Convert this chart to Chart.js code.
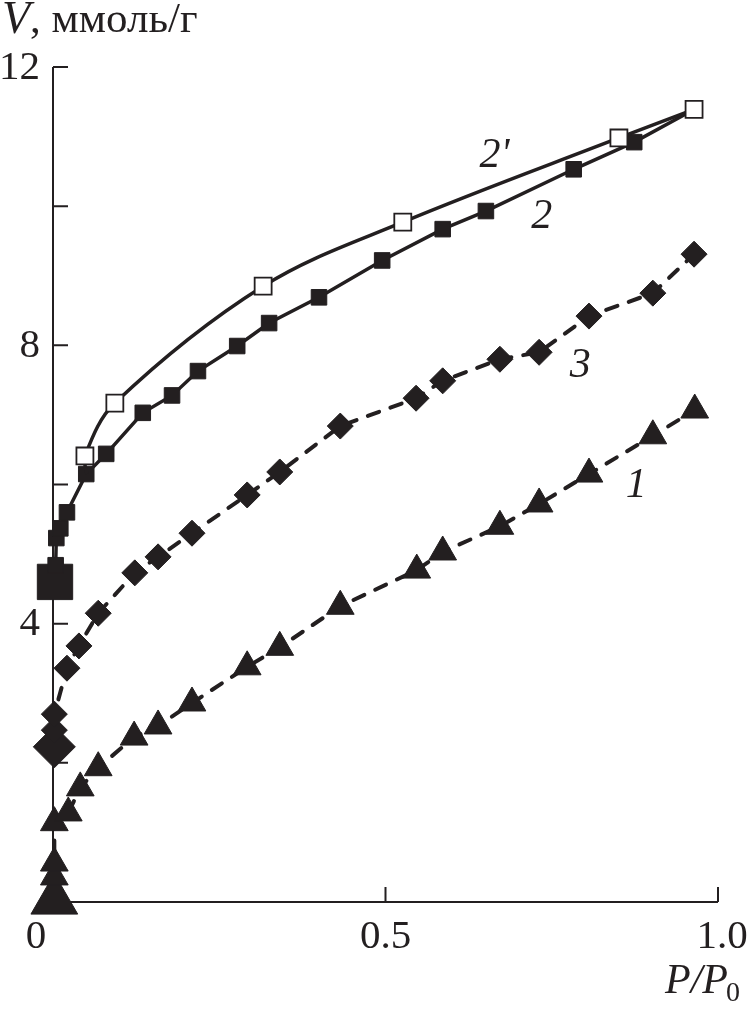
<!DOCTYPE html>
<html>
<head>
<meta charset="utf-8">
<script src="https://cdn.jsdelivr.net/npm/chart.js@4.4.1/dist/chart.umd.min.js"></script>
<style>
html,body{margin:0;padding:0;background:#fff}
#wrap{width:747px;height:1018px;position:relative}
</style>
</head>
<body>
<div id="wrap"><canvas id="c"></canvas></div>
<script>
// isothermes : V (ммоль/г) en fonction de P/P0

// courbe 1 (triangles, tirets)
var p_1=[0.002,0.002,0.002,0.002,0.023,0.041,0.068,0.122,0.158,0.209,0.292,0.341,0.432,0.547,0.586,0.672,0.731,0.806,0.902,0.965]
var v_1=[0.02,0.36,0.56,1.14,1.28,1.64,1.93,2.37,2.53,2.86,3.38,3.66,4.25,4.77,5.03,5.40,5.72,6.15,6.70,7.07]

// courbe 2 (carres pleins, trait plein)
var p_2=[0.003,0.004,0.005,0.011,0.021,0.050,0.080,0.135,0.179,0.218,0.277,0.325,0.400,0.495,0.586,0.651,0.783,0.874,0.964]
var v_2=[4.60,4.84,5.23,5.37,5.60,6.15,6.44,7.03,7.28,7.63,7.99,8.32,8.69,9.22,9.67,9.93,10.53,10.92,11.39]

// courbe 2' (carres vides, desorption)
var p_2d=[0.051,0.048,0.093,0.316,0.526,0.851,0.964]
var v_2d=[6.15,6.41,7.17,8.85,9.77,10.98,11.39]

// courbe 3 (losanges, tirets)
var p_3=[0.002,0.002,0.002,0.021,0.039,0.068,0.123,0.158,0.209,0.292,0.341,0.432,0.546,0.586,0.672,0.731,0.806,0.902,0.964]
var v_3=[2.23,2.47,2.70,3.36,3.68,4.15,4.73,4.96,5.30,5.85,6.18,6.84,7.24,7.49,7.80,7.90,8.42,8.75,9.31]

var xTicks=[0.5,1.0]
var xTickLabels=["0.5","1.0"]
var yTicks=[2,4,6,8,10,12]
var yTickLabels=[4,8,12]

// etiquettes des courbes [texte, x, V]
var curveLabels=[["2'",0.664,10.72],["2",0.735,9.85],["3",0.793,7.70],["1",0.877,5.98]]

var ink="#231f20"

function pts(xs,ys){
    var out=[]
    for(var i=0;i<xs.length;i++){ out.push({x:xs[i],y:ys[i]}) }
    return out
}

function txt(ctx,s,x,y,size,italic,align,sx){
    ctx.save()
    ctx.font=(italic?"italic ":"")+size+"px 'Liberation Serif'"
    ctx.fillStyle=ink
    ctx.textBaseline="middle"
    ctx.textAlign=align||"center"
    ctx.translate(x,y)
    ctx.scale(sx||1,1)
    ctx.fillText(s,0,0)
    var w=ctx.measureText(s).width*(sx||1)
    ctx.restore()
    return w
}

const axes={
    id:'axes',
    beforeDatasetsDraw:(chart)=>{
        const {ctx,scales:{x,y}}=chart
        var x0=x.getPixelForValue(0), y0=y.getPixelForValue(0)
        ctx.save()
        ctx.strokeStyle=ink
        ctx.lineWidth=2
        ctx.beginPath()
        ctx.moveTo(x0,y.getPixelForValue(12))
        ctx.lineTo(x0,y0)
        ctx.lineTo(x.getPixelForValue(1),y0)
        for(var i=0;i<yTicks.length;i++){
            var py=y.getPixelForValue(yTicks[i])
            ctx.moveTo(x0,py); ctx.lineTo(x0+15,py)
        }
        for(var i=0;i<xTicks.length;i++){
            var px=x.getPixelForValue(xTicks[i])
            ctx.moveTo(px,y0); ctx.lineTo(px,y0-15)
        }
        ctx.stroke()
        ctx.restore()
    },
    afterDraw:(chart)=>{
        const {ctx,scales:{x,y}}=chart
        var x0=x.getPixelForValue(0), y0=y.getPixelForValue(0)
        for(var i=0;i<yTickLabels.length;i++){
            txt(ctx,String(yTickLabels[i]),x0-13,y.getPixelForValue(yTickLabels[i])+1,41,false,"right",1)
        }
        txt(ctx,"0",x0-17,y0+35,41,false,"center",1)
        txt(ctx,xTickLabels[0],x.getPixelForValue(xTicks[0]),y0+35,41,false,"center",1)
        txt(ctx,xTickLabels[1],x.getPixelForValue(xTicks[1])+4,y0+35,41,false,"center",1)
        // titre axe y
        var w=txt(ctx,"V",2,21,46,true,"left",1)
        txt(ctx,", ммоль/г",2+w,21,43,false,"left",1)
        // titre axe x
        var wp=txt(ctx,"P/P",665,982,42,true,"left",1)
        txt(ctx,"0",665+wp-2,994,28,false,"left",1)
        for(var i=0;i<curveLabels.length;i++){
            var c=curveLabels[i]
            txt(ctx,c[0],x.getPixelForValue(c[1]),y.getPixelForValue(c[2]),42,true,"center",1)
        }
    }
}

var big=function(r0,r){ return function(c){ return c.dataIndex===0 ? r0 : r } }

var chart=new Chart(document.getElementById('c'),{
    type:'scatter',
    data:{datasets:[
        {   label:"2'", data:pts(p_2d,v_2d), showLine:true, tension:0.35,
            borderColor:ink, borderWidth:3.5,
            pointStyle:'rect', pointRadius:function(c){ return c.dataIndex===0 ? 0 : 12 },
            pointBackgroundColor:'#fff', pointBorderColor:ink, pointBorderWidth:1.8, clip:false },
        {   label:"2", data:pts(p_2,v_2), showLine:true, tension:0,
            borderColor:ink, borderWidth:3.5,
            pointStyle:'rect', pointRadius:big(25,11),
            pointBackgroundColor:ink, pointBorderColor:ink, pointBorderWidth:1, clip:false },
        {   label:"3", data:pts(p_3,v_3), showLine:true, tension:0,
            borderColor:ink, borderWidth:4, borderDash:[12,12], borderCapStyle:'round',
            pointStyle:'rectRot', pointRadius:big(21,13),
            pointBackgroundColor:ink, pointBorderColor:ink, pointBorderWidth:1, clip:false },
        {   label:"1", data:pts(p_1,v_1), showLine:true, tension:0,
            borderColor:ink, borderWidth:4, borderDash:[12,12], borderCapStyle:'round',
            pointStyle:'triangle', pointRadius:big(27,16),
            pointBackgroundColor:ink, pointBorderColor:ink, pointBorderWidth:1, clip:false }
    ]},
    options:{
        responsive:true,
        maintainAspectRatio:false,
        animation:false,
        layout:{padding:{left:53,right:29,top:67,bottom:116}},
        scales:{
            x:{type:'linear',min:0,max:1,display:false},
            y:{type:'linear',min:0,max:12,display:false}
        },
        plugins:{legend:{display:false},tooltip:{enabled:false}}
    },
    plugins:[axes]
})
</script>
</body>
</html>
